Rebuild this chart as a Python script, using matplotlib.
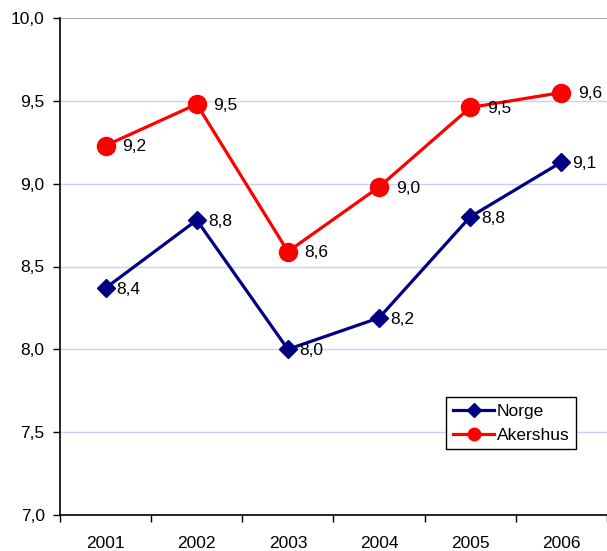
import matplotlib.pyplot as plt
import numpy as np

plt.rcParams['font.family'] = ['Liberation Sans', 'DejaVu Sans']

years = ['2001', '2002', '2003', '2004', '2005', '2006']
norge = [8.37, 8.78, 8.00, 8.19, 8.80, 9.13]
akershus = [9.23, 9.48, 8.59, 8.98, 9.46, 9.55]
norge_labels = ['8,4', '8,8', '8,0', '8,2', '8,8', '9,1']
akershus_labels = ['9,2', '9,5', '8,6', '9,0', '9,5', '9,6']
yticks = [7.0, 7.5, 8.0, 8.5, 9.0, 9.5, 10.0]
ytick_labels = ['7,0', '7,5', '8,0', '8,5', '9,0', '9,5', '10,0']

fig = plt.figure(figsize=(6.07, 5.51), dpi=100)
ax = fig.add_axes([60/607, 36/551, 547/607, 497/551])

x = np.arange(len(years))

# gridlines
for v in yticks[1:-1]:
    ax.axhline(v, color='#ccccff', lw=1, zorder=0)
ax.axhline(10.0, color='#999999', lw=1.2, zorder=0)

ax.plot(x, norge, color='#000080', lw=2.3, marker='D', markersize=9,
        label='Norge', zorder=3)
ax.plot(x, akershus, color='#ff0000', lw=2.3, marker='o', markersize=13,
        label='Akershus', zorder=3)

for xi, v, t in zip(x, norge, norge_labels):
    ax.annotate(t, (xi, v), xytext=(8, -1), textcoords='offset points',
                ha='left', va='center', fontsize=12.5)
for xi, v, t in zip(x, akershus, akershus_labels):
    ax.annotate(t, (xi, v), xytext=(12, -1), textcoords='offset points',
                ha='left', va='center', fontsize=12.5)

ax.set_xlim(-0.5, 5.5)
ax.set_ylim(7.0, 10.0)
ax.set_yticks(yticks)
ax.set_yticklabels(ytick_labels, fontsize=12.5)
ax.set_xticks(x)
ax.set_xticklabels(years, fontsize=12.5)
ax.set_xticks(np.arange(-0.5, 6.0, 1.0), minor=True)
ax.tick_params(axis='x', which='major', length=0, pad=15)
ax.tick_params(axis='x', which='minor', length=5, width=1, direction='out')
ax.tick_params(axis='y', length=5, width=1, direction='out', pad=6)

ax.spines['top'].set_visible(False)
ax.spines['right'].set_visible(False)
ax.spines['left'].set_linewidth(1.2)
ax.spines['bottom'].set_linewidth(1.2)

leg = ax.legend(loc='upper left', bbox_to_anchor=(0.706, 0.237), fontsize=12.5,
                fancybox=False, framealpha=1, edgecolor='black',
                borderpad=0.38, handlelength=2.4, labelspacing=0.5,
                handletextpad=0.15, borderaxespad=0)
leg.get_frame().set_linewidth(1)
leg.legend_handles[0].set_markersize(7.5)
leg.legend_handles[1].set_markersize(9)

fig.savefig('out.png', dpi=100)
